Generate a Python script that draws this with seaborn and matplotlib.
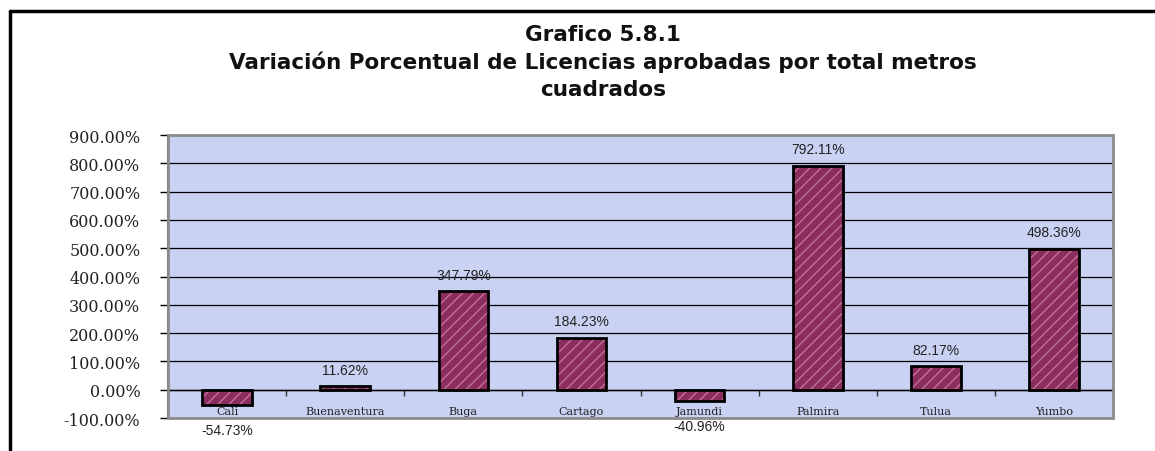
import matplotlib
matplotlib.use('Agg')
import matplotlib.pyplot as plt
import seaborn as sns
import numpy as np
from matplotlib.lines import Line2D
from matplotlib.patches import Rectangle
from matplotlib.ticker import FixedLocator, FuncFormatter

# Datos del grafico
ciudades = ['Cali', 'Buenaventura', 'Buga', 'Cartago', 'Jamundi', 'Palmira', 'Tulua', 'Yumbo']
variacion = [-54.73, 11.62, 347.79, 184.23, -40.96, 792.11, 82.17, 498.36]
etiquetas = ['-54.73%', '11.62%', '347.79%', '184.23%', '-40.96%', '792.11%', '82.17%', '498.36%']
y_ticks = [-100, 0, 100, 200, 300, 400, 500, 600, 700, 800, 900]

titulo = ('Grafico 5.8.1\n'
          'Variación Porcentual de Licencias aprobadas por total metros\n'
          'cuadrados')

sns.set_style('white')
plt.rcParams['font.family'] = ['DejaVu Sans']

fig = plt.figure(figsize=(11.55, 4.52), dpi=100)
ax = fig.add_axes([0.1455, 0.073, 0.8182, 0.626])
ax.set_facecolor('#c9d2f3')

# barras: primero relleno con rayado, luego el borde negro
sns.barplot(x=ciudades, y=variacion, color='#8b2d5e', saturation=1, width=0.42,
            edgecolor='#c07398', linewidth=0, hatch='///', ax=ax, zorder=3)
sns.barplot(x=ciudades, y=variacion, fill=False, width=0.42,
            edgecolor='black', linewidth=2, ax=ax, zorder=4)

ax.set_xlim(-0.5, len(ciudades) - 0.5)
ax.set_ylim(-100, 900)
ax.set_yticks(y_ticks)
ax.yaxis.set_major_formatter(FuncFormatter(lambda v, p: f'{v:.2f}%'))
ax.set_xlabel('')
ax.set_ylabel('')

# lineas de cuadricula
ax.set_axisbelow(True)
ax.yaxis.grid(True, color='black', linewidth=0.9)

# eje x en cero, marcas entre categorias
ax.spines['bottom'].set_position(('data', 0))
ax.spines['bottom'].set_color('black')
ax.spines['bottom'].set_linewidth(1)
ax.spines['bottom'].set_zorder(5)
ax.xaxis.set_minor_locator(FixedLocator(np.arange(-0.5, len(ciudades), 1)))
ax.tick_params(axis='x', which='major', length=0, pad=12, labelsize=8)
ax.tick_params(axis='x', which='minor', bottom=True, length=4, width=1, color='#333333', direction='out')
for lab in ax.get_xticklabels():
    lab.set_fontfamily('DejaVu Serif')
    lab.set_color('#222222')

ax.tick_params(axis='y', which='major', left=True, length=6, width=1, color='black',
               pad=14, labelsize=11.5)
for lab in ax.get_yticklabels():
    lab.set_fontfamily('DejaVu Serif')
    lab.set_color('#222222')

for s in ['top', 'right']:
    ax.spines[s].set_visible(False)
ax.spines['left'].set_color('#555555')
ax.spines['left'].set_linewidth(1.5)

# marco gris del area de trazado
ax.add_patch(Rectangle((0, 0), 1, 1, transform=ax.transAxes, fill=False,
                       edgecolor='#8c8c8c', linewidth=2, clip_on=False, zorder=6))

# etiquetas de datos
for i, (v, t) in enumerate(zip(variacion, etiquetas)):
    if v >= 0:
        ax.annotate(t, (i, v), xytext=(0, 7), textcoords='offset points',
                    ha='center', va='bottom', fontsize=10, color='#222222',
                    family='Liberation Sans', annotation_clip=False, zorder=7)
    else:
        ax.annotate(t, (i, v), xytext=(0, -13), textcoords='offset points',
                    ha='center', va='top', fontsize=10, color='#222222',
                    family='Liberation Sans', annotation_clip=False, zorder=7)

# titulo
fig.text(0.522, 0.862, titulo, ha='center', va='center', fontsize=15.5,
         fontweight='bold', linespacing=1.42, color='#111111')

# marco exterior negro
fig.add_artist(Line2D([10 / 1155, 1.0], [1 - 12 / 452, 1 - 12 / 452], color='black', linewidth=2.5))
fig.add_artist(Line2D([10 / 1155, 10 / 1155], [0.0, 1 - 12 / 452], color='black', linewidth=2.5))

fig.savefig('out.png', dpi=100, facecolor='white')
